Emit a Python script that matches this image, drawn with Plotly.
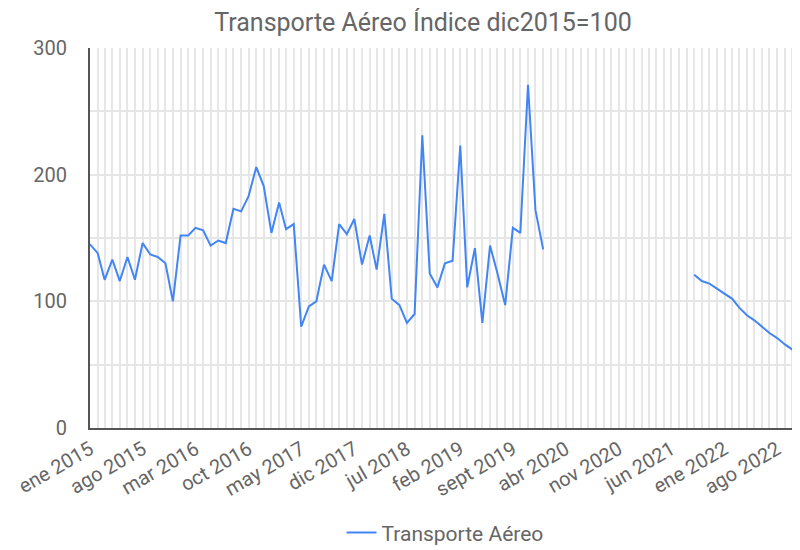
import pandas as pd
import plotly.graph_objects as go

# Monthly series, ene 2015 .. nov 2022 (None = no data)
months = list(pd.date_range("2015-01-01", "2022-11-01", freq="MS"))
values = [
    145, 138, 117, 133, 116, 135, 117, 146, 137, 135, 130, 100,   # 2015
    152, 152, 158, 156, 144, 148, 146, 173, 171, 183, 206, 191,   # 2016
    154, 178, 157, 161, 80, 96, 100, 129, 116, 161, 153, 165,     # 2017
    129, 152, 125, 169, 102, 97, 83, 90, 231, 122, 111, 130,      # 2018
    132, 223, 111, 142, 83, 144, 122, 97, 158, 154, 271, 172,     # 2019
    141, None, None, None, None, None, None, None, None, None, None, None,  # 2020
    None, None, None, None, None, None, None, None, 121, 116, 114, 110,    # 2021
    106, 102, 95, 89, 85, 80, 75, 71, 66, 62, 60,                 # 2022
]

tick_dates = ["2015-01-01", "2015-08-01", "2016-03-01", "2016-10-01", "2017-05-01",
              "2017-12-01", "2018-07-01", "2019-02-01", "2019-09-01", "2020-04-01",
              "2020-11-01", "2021-06-01", "2022-01-01", "2022-08-01"]
tick_labels = ["ene 2015", "ago 2015", "mar 2016", "oct 2016", "may 2017",
               "dic 2017", "jul 2018", "feb 2019", "sept 2019", "abr 2020",
               "nov 2020", "jun 2021", "ene 2022", "ago 2022"]

series_name = "Transporte Aéreo"
title_text = "Transporte Aéreo Índice dic2015=100"

fig = go.Figure()
fig.add_trace(go.Scatter(
    x=months, y=values, mode="lines", name=series_name,
    line=dict(color="#4285F4", width=2), connectgaps=False,
    showlegend=True,
))

# The page has an 8px body margin, so the figure is sized to fit the 800x550 window.
W, H = 792, 542
font_family = "Roboto, 'Noto Sans', sans-serif"
fig.update_layout(
    width=W, height=H,
    paper_bgcolor="white", plot_bgcolor="white",
    margin=dict(l=82, r=0, t=40, b=122, autoexpand=False),
    title=dict(text=title_text, x=415 / W, xref="container", xanchor="center",
               y=1 - 14 / H, yref="container", yanchor="middle",
               font=dict(family=font_family, size=25, color="#666666")),
    font=dict(family=font_family, size=20, color="#666666"),
    legend=dict(orientation="h", x=0.5, xanchor="center", y=-0.276, yanchor="middle",
                font=dict(size=21, color="#666666")),
    showlegend=True,
)
fig.update_xaxes(
    range=["2015-01-01", "2022-11-01"], automargin=False,
    tickmode="array", tickvals=tick_dates, ticktext=tick_labels,
    tickangle=-30, ticks="", showgrid=True, gridcolor="#e6e6e6", gridwidth=2,
    minor=dict(dtick="M1", tick0="2015-01-01", showgrid=True, gridcolor="#e6e6e6", gridwidth=2),
    showline=True, linecolor="#555555", linewidth=2, zeroline=False,
    tickfont=dict(size=20, color="#666666"),
)
fig.update_yaxes(
    range=[0, 300], tickvals=[0, 100, 200, 300], ticks="", automargin=False,
    showgrid=True, gridcolor="#e6e6e6", gridwidth=2,
    minor=dict(dtick=50, tick0=0, showgrid=True, gridcolor="#e6e6e6", gridwidth=2),
    showline=True, linecolor="#555555", linewidth=2, zeroline=False,
    tickfont=dict(size=20, color="#666666"), ticklabelstandoff=17,
)

fig.write_html("out.html")
